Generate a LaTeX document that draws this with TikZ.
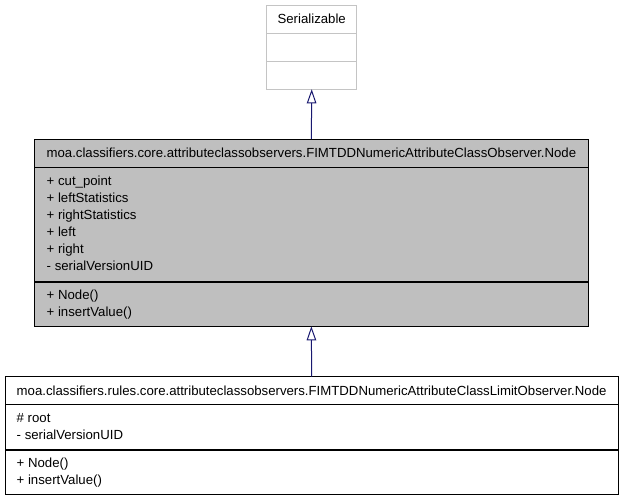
\documentclass[tikz,border=0pt]{standalone}
\usepackage{fontspec}
\setmainfont{Liberation Sans}
\usetikzlibrary{arrows.meta}
\definecolor{edgecol}{HTML}{191970}
\definecolor{boxfill}{HTML}{BFBFBF}
\definecolor{lightborder}{HTML}{C4C4C4}
\begin{document}
\begin{tikzpicture}[x=1pt,y=-1pt,
  every node/.style={font=\fontsize{13.2}{16}\selectfont, inner sep=0pt, outer sep=0pt},
  classbox/.style={draw, line width=1pt, anchor=north west},
  member/.style={anchor=base west},
  ctitle/.style={anchor=base},
  divider/.style={line width=1.3pt},
  inherit/.style={draw=edgecol, line width=1pt, -{Triangle[open, length=14pt, width=9.5pt]}}]
\useasboundingbox (0,0) rectangle (624,501);
% Serializable
\node[classbox, draw=lightborder, minimum width=90pt, minimum height=84.3pt] (ser) at (266.7,5) {};
\node[ctitle] (sert) at (311.7,23.3) {Serializable};
\draw[lightborder, line width=1pt] (266.7,33.3) -- (356.7,33.3);
\draw[lightborder, line width=1pt] (266.7,61.7) -- (356.7,61.7);
% middle class
\node[classbox, fill=boxfill, minimum width=554.7pt, minimum height=187.3pt] (mid) at (34,139) {};
\node[ctitle] (midt) at (311.4,157.5) {moa.classifiers.core.attributeclassobservers.FIMTDDNumericAttributeClassObserver.Node};
\draw[divider] (34,167.3) -- (588.7,167.3);
\draw[divider] (34,282) -- (588.7,282);
\node[member] (m1) at (46.7,185.5) {+ cut\_point};
\node[member] (m2) at (46.7,202.5) {+ leftStatistics};
\node[member] (m3) at (46.7,219.5) {+ rightStatistics};
\node[member] (m4) at (46.7,236.5) {+ left};
\node[member] (m5) at (46.7,253.5) {+ right};
\node[member] (m6) at (46.7,270.5) {- serialVersionUID};
\node[member] (m7) at (46.7,299.3) {+ Node()};
\node[member] (m8) at (46.7,316.3) {+ insertValue()};
% bottom class
\node[classbox, fill=white, minimum width=613.3pt, minimum height=117.6pt] (bot) at (5,376.7) {};
\node[ctitle] (bott) at (311.6,395.5) {moa.classifiers.rules.core.attributeclassobservers.FIMTDDNumericAttributeClassLimitObserver.Node};
\draw[divider] (5,404.3) -- (618.3,404.3);
\draw[divider] (5,450) -- (618.3,450);
\node[member] (b1) at (16.7,422) {\# root};
\node[member] (b2) at (16.7,439) {- serialVersionUID};
\node[member] (b3) at (16.7,467.3) {+ Node()};
\node[member] (b4) at (16.7,484.3) {+ insertValue()};
% inheritance
\draw[inherit] (mid.north) -- (ser.south);
\draw[inherit] (bot.north) -- (mid.south);
\end{tikzpicture}
\end{document}
